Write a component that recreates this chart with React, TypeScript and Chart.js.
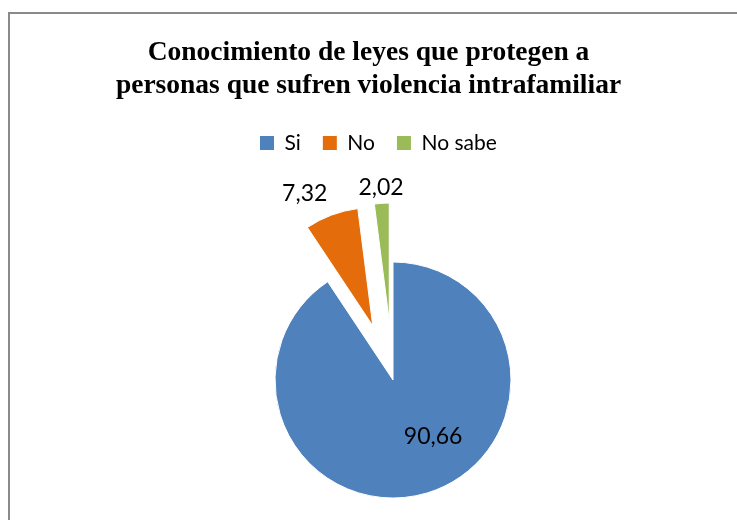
import React, { useEffect, useRef } from "react";
import { Chart, registerables } from "chart.js";

Chart.register(...registerables);

const categories = ["Si", "No", "No sabe"];
const values = [90.66, 7.32, 2.02];
const titleLines = [
  "Conocimiento de leyes que protegen a",
  "personas que sufren violencia intrafamiliar",
];

const sliceColors = ["#4F81BD", "#E46C0A", "#9BBB59"];
const explodePx = [0, 58, 59];
const RADIUS = 118;

const fmt = (v: number) => v.toFixed(2).replace(".", ",");

// Moves exploded slices outward along their mid-angle without changing their radius.
const explodeSlices = {
  id: "explodeSlices",
  afterDatasetUpdate(chart: any, args: any) {
    if (args.index !== 0) return;
    const meta = chart.getDatasetMeta(0);
    meta.data.forEach((arc: any, i: number) => {
      const d = explodePx[i] || 0;
      if (!d) return;
      const mid = (arc.startAngle + arc.endAngle) / 2;
      arc.x = arc.x + Math.cos(mid) * d;
      arc.y = arc.y + Math.sin(mid) * d;
    });
  },
};

const sliceLabels = {
  id: "sliceLabels",
  afterDatasetsDraw(chart: any) {
    const ctx = chart.ctx;
    const meta = chart.getDatasetMeta(0);
    ctx.save();
    ctx.font = "23px Lato";
    ctx.fillStyle = "#000";
    meta.data.forEach((arc: any, i: number) => {
      const R = arc.outerRadius;
      const mid = (arc.startAngle + arc.endAngle) / 2;
      const cx = arc.x;
      const cy = arc.y;
      const text = fmt(values[i]);
      if (!explodePx[i]) {
        const a = mid - 0.326;
        const r = R * 0.585;
        ctx.textAlign = "center";
        ctx.textBaseline = "middle";
        ctx.fillText(text, cx + Math.cos(a) * r, cy + Math.sin(a) * r);
      } else {
        const dx = Math.cos(mid);
        const px = cx + dx * (R + 12);
        // top-most point of the slice
        const up = -Math.PI / 2 + 2 * Math.PI;
        let a1 = arc.startAngle;
        let a2 = arc.endAngle;
        let topY: number;
        if ((a1 <= up && a2 >= up) || (a1 <= up - 2 * Math.PI && a2 >= up - 2 * Math.PI)) {
          topY = cy - R;
        } else {
          topY = Math.min(cy, cy + Math.sin(a1) * R, cy + Math.sin(a2) * R);
        }
        ctx.textAlign = dx < -0.2 ? "right" : dx > 0.2 ? "left" : "center";
        ctx.textBaseline = "alphabetic";
        ctx.fillText(text, px, topY - 8);
      }
    });
    ctx.restore();
  },
};

export default function App() {
  const canvasRef = useRef<HTMLCanvasElement | null>(null);

  useEffect(() => {
    if (!canvasRef.current) return;
    const pieGen = (Chart as any).overrides.pie.plugins.legend.labels.generateLabels;
    const chart = new Chart(canvasRef.current, {
      type: "pie",
      data: {
        labels: categories,
        datasets: [
          {
            data: values,
            backgroundColor: sliceColors,
            borderColor: "#ffffff",
            borderWidth: 1,
          } as any,
        ],
      },
      options: {
        animation: false,
        responsive: false,
        events: [],
        radius: RADIUS,
        layout: {
          padding: { top: 96.5, bottom: 117.5, left: 228, right: 179 },
        },
        plugins: {
          title: { display: false },
          tooltip: { enabled: false },
          legend: {
            display: true,
            position: "top",
            align: "start",
            labels: {
              boxWidth: 14,
              boxHeight: 14,
              padding: 22,
              color: "#000",
              font: { family: "Lato", size: 21 },
              generateLabels: (c: any) =>
                pieGen(c).map((l: any) => ({ ...l, lineWidth: 0 })),
            },
          },
        },
      } as any,
      plugins: [explodeSlices, sliceLabels],
    });
    return () => chart.destroy();
  }, []);

  return (
    <div
      style={{
        position: "fixed",
        left: 8,
        top: 12,
        width: 729,
        height: 508,
        boxSizing: "border-box",
        borderLeft: "2px solid #8a8a8a",
        borderTop: "2px solid #8a8a8a",
        overflow: "hidden",
        background: "#fff",
      }}
    >
      <canvas
        ref={canvasRef}
        width={717}
        height={700}
        style={{ display: "block", width: 717, height: 700 }}
      />
      <div
        style={{
          position: "absolute",
          left: 0,
          top: 20,
          width: 717,
          textAlign: "center",
          fontFamily: '"Liberation Serif", "Times New Roman", serif',
          fontWeight: "bold",
          fontSize: 27.5,
          lineHeight: "33px",
          color: "#000",
        }}
      >
        {titleLines.map((l, i) => (
          <div key={i}>{l}</div>
        ))}
      </div>
    </div>
  );
}
